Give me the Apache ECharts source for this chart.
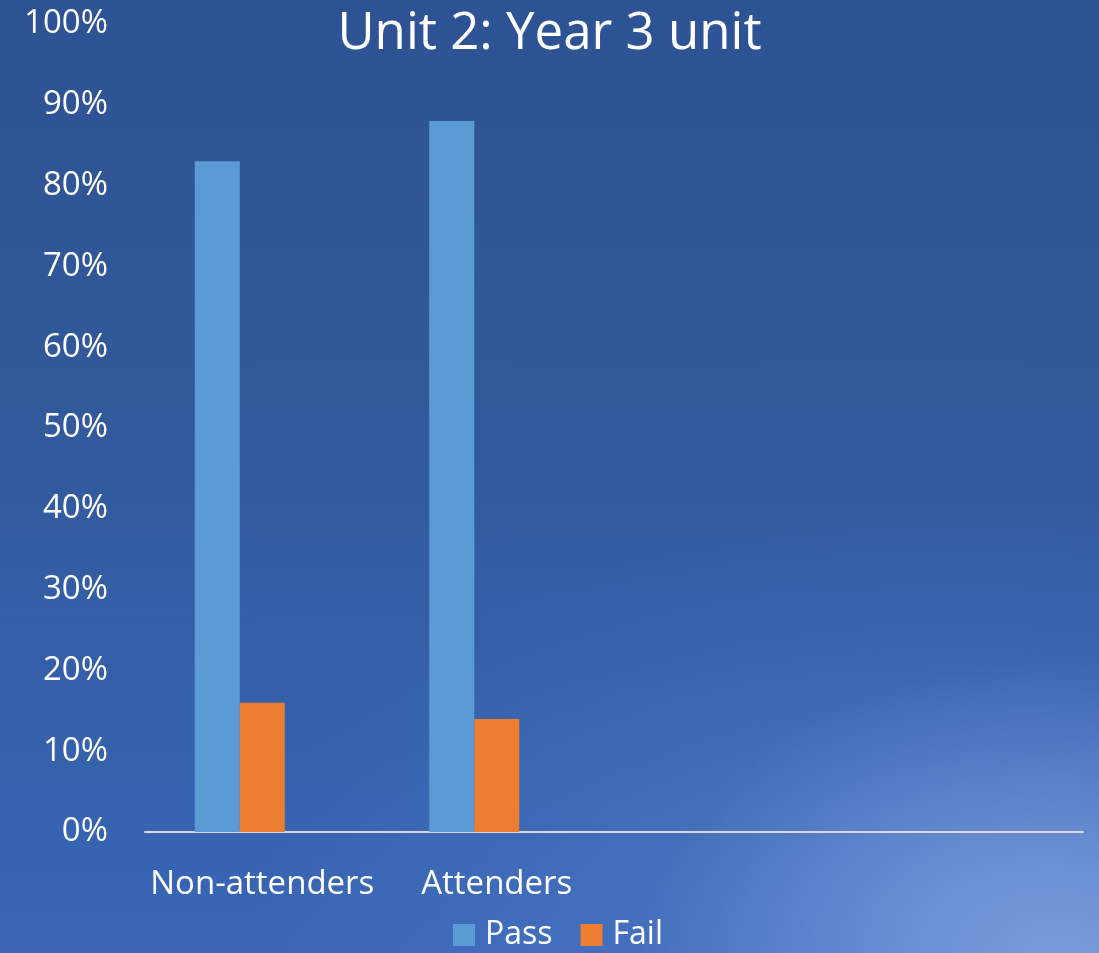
<!DOCTYPE html>
<html>
<head>
<meta charset="utf-8">
<script src="https://cdn.jsdelivr.net/npm/echarts@6/dist/echarts.min.js"></script>
<style>
  html, body {
    margin: 0;
    padding: 0;
  }
  #chart {
    width: 1099px;
    height: 953px;
    background:
      radial-gradient(ellipse 420px 300px at 1060px 960px, rgba(140, 170, 230, 0.75), rgba(140, 170, 230, 0) 100%),
      radial-gradient(ellipse 700px 380px at 950px 900px, rgba(100, 140, 215, 0.45), rgba(100, 140, 215, 0) 100%),
      linear-gradient(180deg, #2e5394 0%, #315899 40%, #3663b0 85%, #3967b6 100%);
  }
</style>
</head>
<body>
<div id="chart"></div>
<script>
  // chart data
  var categories = ["Non-attenders", "Attenders", "", ""];
  var passData = [83, 88, null, null];
  var failData = [16, 14, null, null];
  // third (empty) series in the original chart, keeps bar groups shifted left
  var blankData = [null, null, null, null];
  var yTicks = [0, 10, 20, 30, 40, 50, 60, 70, 80, 90, 100];

  var fontFamily = "'Open Sans', sans-serif";

  var chart = echarts.init(document.getElementById("chart"));
  var option = {
    backgroundColor: "transparent",
    title: {
      text: "Unit 2: Year 3 unit",
      left: "center",
      top: 4,
      textStyle: {
        color: "#ffffff",
        fontFamily: fontFamily,
        fontWeight: "normal",
        fontSize: 51,
      },
    },
    legend: {
      data: ["Pass", "Fail"],
      top: 914,
      left: 448,
      itemWidth: 22,
      itemHeight: 22,
      itemGap: 28,
      icon: "rect",
      textStyle: {
        color: "#ffffff",
        fontFamily: fontFamily,
        fontSize: 32,
        padding: [0, 0, 0, 5],
      },
    },
    grid: {
      left: 145,
      right: 16,
      top: 24,
      bottom: 121,
      containLabel: false,
    },
    xAxis: {
      type: "category",
      data: categories,
      axisTick: { show: false },
      axisLine: {
        lineStyle: {
          color: "#d9d9d9",
          width: 2,
        },
      },
      axisLabel: {
        color: "#ffffff",
        fontFamily: fontFamily,
        fontSize: 33,
        margin: 36,
        interval: 0,
      },
    },
    yAxis: {
      type: "value",
      min: yTicks[0],
      max: yTicks[yTicks.length - 1],
      interval: 10,
      splitLine: { show: false },
      axisLine: { show: false },
      axisTick: { show: false },
      axisLabel: {
        color: "#ffffff",
        fontFamily: fontFamily,
        fontSize: 33,
        margin: 37,
        formatter: "{value}%",
      },
    },
    series: [
      {
        name: "Pass",
        type: "bar",
        barWidth: 45,
        barGap: "0%",
        itemStyle: { color: "#5b9bd5" },
        data: passData,
      },
      {
        name: "Fail",
        type: "bar",
        barWidth: 45,
        barGap: "0%",
        itemStyle: { color: "#ed7d31" },
        data: failData,
      },
      {
        name: "blank",
        type: "bar",
        barWidth: 45,
        barGap: "0%",
        itemStyle: { color: "#a5a5a5" },
        data: blankData,
      },
    ],
  };
  chart.setOption(option);
</script>
</body>
</html>
